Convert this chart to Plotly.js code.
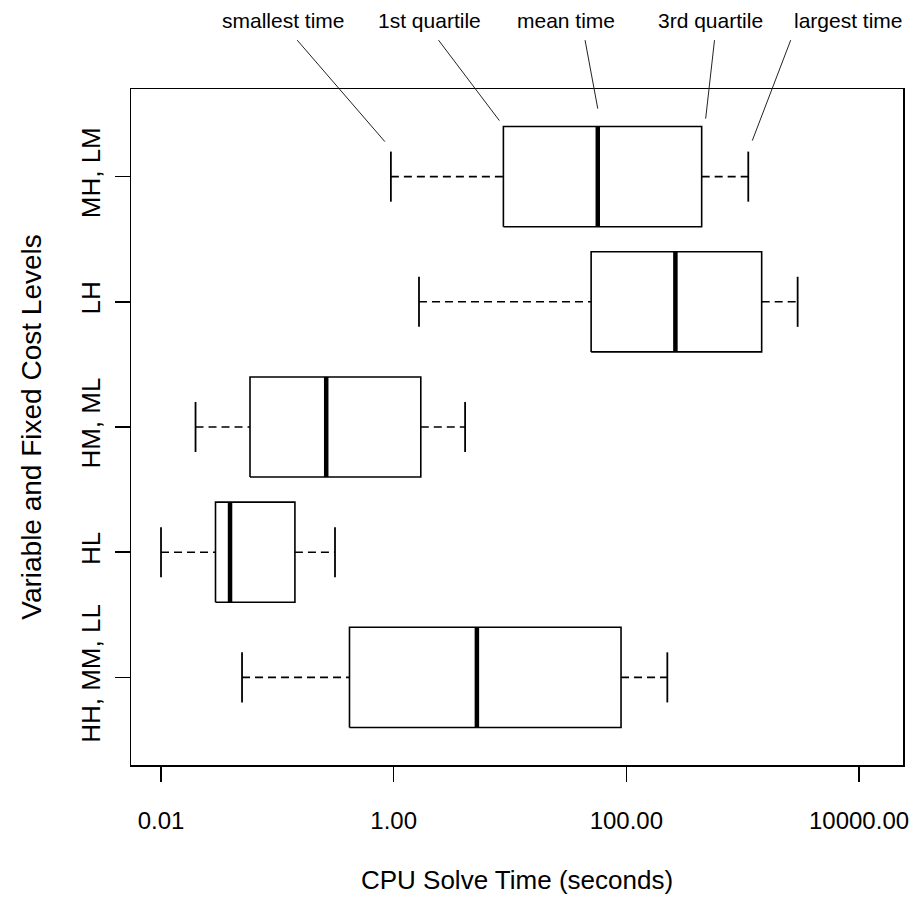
<!DOCTYPE html>
<html>
<head>
<meta charset="utf-8">
<script src="https://cdn.plot.ly/plotly-3.0.1.min.js"></script>
<style>
  html, body { margin: 0; padding: 0; background: #ffffff; }
  #chart { width: 917px; height: 898px; }
</style>
</head>
<body>
<div id="chart"></div>
<script>
// ---- data (seconds), bottom to top ----
const categories = ["HH, MM, LL", "HL", "HM, ML", "LH", "MH, LM"];
const minTime    = [0.0497, 0.0100, 0.0198, 1.65, 0.946];
const q1Time     = [0.417,  0.0294, 0.0582, 49.8, 8.77];
const meanTime   = [5.19,   0.0392, 0.263,  264,  56.8];
const q3Time     = [90.0,   0.1416, 1.71,   1456, 444];
const maxTime    = [225,    0.313,  4.11,   2967, 1117];

const xTickVals  = [0.01, 1, 100, 10000];
const xTickText  = ["0.01", "1.00", "100.00", "10000.00"];

const calloutLabels = ["smallest time", "1st quartile", "mean time", "3rd quartile", "largest time"];
const calloutSeries = [minTime, q1Time, meanTime, q3Time, maxTime];
const calloutRow = 4; // "MH, LM"

// ---- build traces ----
const halfBox = 0.4, halfCap = 0.2;
const boxX = [], boxY = [], medX = [], medY = [], whX = [], whY = [], capX = [], capY = [];
categories.forEach((c, i) => {
  boxX.push(q1Time[i], q3Time[i], q3Time[i], q1Time[i], q1Time[i], null);
  boxY.push(i - halfBox, i - halfBox, i + halfBox, i + halfBox, i - halfBox, null);
  medX.push(meanTime[i], meanTime[i], null);
  medY.push(i - halfBox, i + halfBox, null);
  whX.push(minTime[i], q1Time[i], null, q3Time[i], maxTime[i], null);
  whY.push(i, i, null, i, i, null);
  capX.push(minTime[i], minTime[i], null, maxTime[i], maxTime[i], null);
  capY.push(i - halfCap, i + halfCap, null, i - halfCap, i + halfCap, null);
});

const ink = "#000000";
const traces = [
  {x: whX, y: whY, mode: "lines", line: {color: ink, width: 1.6, dash: "8px,5px"}, hoverinfo: "skip"},
  {x: capX, y: capY, mode: "lines", line: {color: ink, width: 1.8}, hoverinfo: "skip"},
  {x: boxX, y: boxY, mode: "lines", line: {color: ink, width: 1.6}, hoverinfo: "skip"},
  {x: medX, y: medY, mode: "lines", line: {color: ink, width: 4.5}, hoverinfo: "skip"}
];

// ---- callout annotations ----
const tipShiftX = [-6, -4, 0, 4, 4];
const tipShiftY = [35, 56, 68, 58, 36];
const tailAX    = [-89, -62, -13, 9, 39];
const tailAY    = [-103, -82, -70, -80, -102];
const textPaperX = [0.197, 0.387, 0.563, 0.750, 0.929];

const annotations = [];
calloutLabels.forEach((lab, k) => {
  const v = calloutSeries[k][calloutRow];
  annotations.push({
    x: Math.log10(v), y: calloutRow, xref: "x", yref: "y",
    xshift: tipShiftX[k], yshift: tipShiftY[k],
    text: "", showarrow: true, arrowhead: 0, arrowwidth: 1, arrowcolor: "#222",
    ax: tailAX[k], ay: tailAY[k], axref: "pixel", ayref: "pixel", standoff: 0, startstandoff: 0
  });
  annotations.push({
    x: textPaperX[k], y: 1.102, xref: "paper", yref: "paper",
    text: lab, showarrow: false, xanchor: "center", yanchor: "middle",
    font: {family: "Liberation Sans, Arial, sans-serif", size: 21, color: "#000"}
  });
});

const layout = {
  width: 917, height: 898,
  margin: {l: 131, r: 14, t: 89, b: 133},
  paper_bgcolor: "#ffffff", plot_bgcolor: "#ffffff",
  showlegend: false,
  font: {family: "Liberation Sans, Arial, sans-serif", color: "#000", size: 24},
  xaxis: {
    type: "log", range: [-2.258, 4.378],
    tickvals: xTickVals, ticktext: xTickText,
    ticks: "outside", ticklen: 15, tickwidth: 1.5, tickcolor: ink,
    showline: true, mirror: true, linecolor: ink, linewidth: 1.5,
    showgrid: false, zeroline: false,
    tickfont: {size: 24},
    ticklabelstandoff: 19,
    title: {text: "CPU Solve Time (seconds)", font: {size: 26}, standoff: 37}
  },
  yaxis: {
    range: [-0.7, 4.7],
    tickvals: categories.map((c, i) => i), ticktext: categories,
    tickangle: -90,
    ticks: "outside", ticklen: 15, tickwidth: 1.5, tickcolor: ink,
    showline: true, mirror: true, linecolor: ink, linewidth: 1.5,
    showgrid: false, zeroline: false,
    tickfont: {size: 26},
    ticklabelstandoff: 4,
    title: {text: "Variable and Fixed Cost Levels", font: {size: 28}, standoff: 26}
  },
  annotations: annotations
};

Plotly.newPlot("chart", traces, layout, {displayModeBar: false, staticPlot: true});
</script>
</body>
</html>
